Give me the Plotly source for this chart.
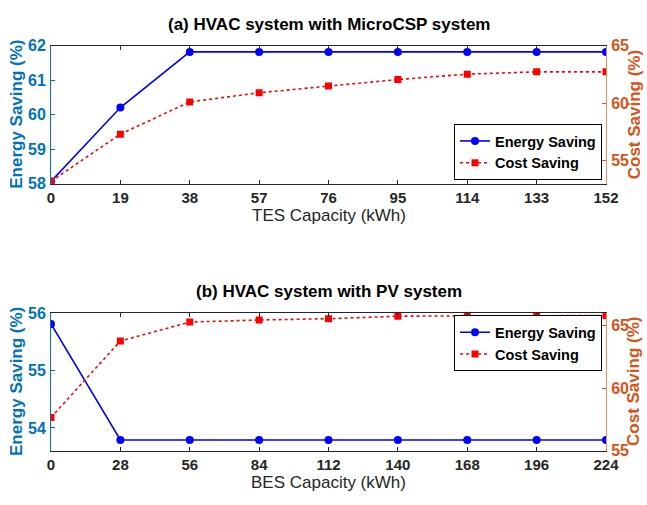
import plotly.graph_objects as go

# ---- data ----
tes_capacity = [0, 19, 38, 57, 76, 95, 114, 133, 152]
energy_a = [58.07, 60.21, 61.82, 61.82, 61.82, 61.82, 61.82, 61.82, 61.82]
cost_a = [53.22, 57.32, 60.12, 60.91, 61.49, 62.06, 62.53, 62.73, 62.73]

bes_capacity = [0, 28, 56, 84, 112, 140, 168, 196, 224]
energy_b = [55.81, 53.79, 53.79, 53.79, 53.79, 53.79, 53.79, 53.79, 53.79]
cost_b = [57.67, 63.77, 65.28, 65.45, 65.55, 65.75, 65.78, 65.80, 65.80]

title_a = "(a) HVAC system with MicroCSP system"
title_b = "(b) HVAC system with PV system"
xlabel_a = "TES Capacity (kWh)"
xlabel_b = "BES Capacity (kWh)"
ylabel_left = "Energy Saving (%)"
ylabel_right = "Cost Saving (%)"

BLUE_AX = "#0072BD"
ORANGE_AX = "#D95319"
DARK = "#262626"
FONT = "Liberation Sans"

W, H = 647, 505
ML, MR = 51, 41
PW = W - ML - MR


def py(px):
    return 1 - px / H


def pxx(px):
    return (px - ML) / PW


fig = go.Figure()

def add_pair(x, e, c, xa, ya_l, ya_r, legend):
    fig.add_trace(go.Scatter(
        x=x, y=e, name="Energy Saving", mode="lines+markers",
        line=dict(color="#0000FF", width=1.6),
        marker=dict(symbol="circle", size=8, color="#0000FF"),
        xaxis=xa, yaxis=ya_l, legend=legend))
    fig.add_trace(go.Scatter(
        x=x, y=c, name="Cost Saving", mode="lines+markers",
        line=dict(color="#FF0000", width=1.6, dash="dot"),
        marker=dict(symbol="square", size=7, color="#FF0000"),
        xaxis=xa, yaxis=ya_r, legend=legend))

add_pair(tes_capacity, energy_a, cost_a, "x", "y", "y2", "legend")
add_pair(bes_capacity, energy_b, cost_b, "x2", "y3", "y4", "legend2")

TS = 15
tickfont_dark = dict(family=FONT, size=TS, color=DARK, weight="bold")
tickfont_blue = dict(family=FONT, size=TS + 1, color=BLUE_AX, weight="bold")
tickfont_or = dict(family=FONT, size=TS + 1, color=ORANGE_AX, weight="bold")

top_dom = [py(182), py(39)]
bot_dom = [py(458.3), py(315.7)]

xcommon = dict(showline=True, linecolor=DARK, linewidth=1, mirror="ticks",
               ticks="inside", ticklen=4, tickcolor=DARK, showgrid=False,
               zeroline=False, tickfont=tickfont_dark, domain=[0, 1],
               ticklabelstandoff=0)
ylcommon = dict(showline=True, linecolor=BLUE_AX, linewidth=1, ticks="inside",
                ticklen=4, tickcolor=BLUE_AX, showgrid=False, zeroline=False,
                tickfont=tickfont_blue, side="left", ticklabelstandoff=1)
yrcommon = dict(showline=True, linecolor="#E58C62", linewidth=1, ticks="inside",
                ticklen=4, tickcolor=ORANGE_AX, showgrid=False, zeroline=False,
                tickfont=tickfont_or, side="right", ticklabelstandoff=1)

legfont = dict(family=FONT, size=14.5, color="black", weight="bold")

fig.update_layout(
    width=W, height=H,
    margin=dict(l=ML, r=MR, t=0, b=0),
    paper_bgcolor="white", plot_bgcolor="white",
    xaxis=dict(xcommon, anchor="y", range=[0, 152], tickvals=tes_capacity),
    yaxis=dict(ylcommon, anchor="x", domain=top_dom, range=[58, 62], tickvals=[58, 59, 60, 61, 62]),
    yaxis2=dict(yrcommon, anchor="x", overlaying="y", range=[53, 65], tickvals=[55, 60, 65]),
    xaxis2=dict(xcommon, anchor="y3", range=[0, 224], tickvals=bes_capacity),
    yaxis3=dict(ylcommon, anchor="x2", domain=bot_dom, range=[53.6, 56], tickvals=[54, 55, 56]),
    yaxis4=dict(yrcommon, anchor="x2", overlaying="y3", range=[55, 66], tickvals=[55, 60, 65]),
    legend=dict(x=pxx(602), xanchor="right", y=py(178), yanchor="bottom",
                bgcolor="white", bordercolor="#000000", borderwidth=1,
                font=legfont, tracegroupgap=0, itemwidth=30),
    legend2=dict(x=pxx(602), xanchor="right", y=py(318), yanchor="top",
                 bgcolor="white", bordercolor="#000000", borderwidth=1,
                 font=legfont, tracegroupgap=0, itemwidth=30),
    showlegend=True,
)

ann = []
def A(text, x, y, size, color, weight="bold", angle=0):
    ann.append(dict(text=text, x=x, y=y, xref="paper", yref="paper",
                    xanchor="center", yanchor="middle", showarrow=False,
                    textangle=angle,
                    font=dict(family=FONT, size=size, color=color, weight=weight)))

A(title_a, 0.5, py(17), 17, "black")
A(title_b, 0.5, py(293), 17, "black")
A(xlabel_a, 0.5, py(215), 17, DARK, weight="normal")
A(xlabel_b, 0.5, py(491), 17, DARK, weight="normal")
A(ylabel_left, pxx(17), py(110.5), 17, BLUE_AX, angle=-90)
A(ylabel_left, pxx(17), py(387), 17, BLUE_AX, angle=-90)
A(ylabel_right, pxx(634), py(111), 17, ORANGE_AX, angle=-90)
A(ylabel_right, pxx(634), py(387), 17, ORANGE_AX, angle=-90)
fig.update_layout(annotations=ann)

fig.write_html("out.html")
